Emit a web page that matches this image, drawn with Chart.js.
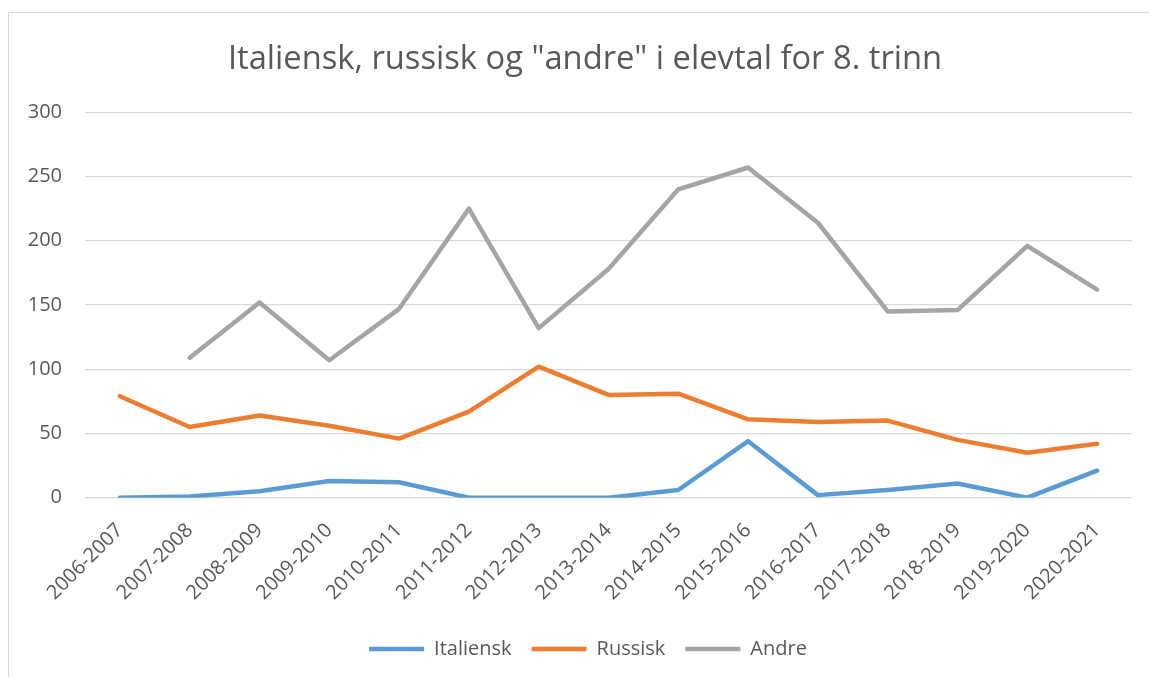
<!DOCTYPE html>
<html>
<head>
<meta charset="utf-8">
<script src="https://cdn.jsdelivr.net/npm/chart.js@4.4.1/dist/chart.umd.min.js"></script>
<style>
  html, body { margin: 0; padding: 0; background: #fff; }
  #wrap { position: relative; width: 1149px; height: 677px; overflow: hidden; }
  #frame { position: absolute; left: 8px; top: 12px; width: 1200px; height: 700px;
           border: 1.5px solid #d9d9d9; box-sizing: border-box; }
  #chart { position: absolute; left: 0; top: 0; }
</style>
</head>
<body>
<div id="wrap">
  <div id="frame"></div>
  <canvas id="chart" width="1149" height="677"></canvas>
</div>
<script>
const years = ["2006-2007", "2007-2008", "2008-2009", "2009-2010", "2010-2011",
  "2011-2012", "2012-2013", "2013-2014", "2014-2015", "2015-2016",
  "2016-2017", "2017-2018", "2018-2019", "2019-2020", "2020-2021"];
const italiensk = [0, 1, 5, 13, 12, 0, 0, 0, 6, 44, 2, 6, 11, 0, 21];
const russisk = [79, 55, 64, 56, 46, 67, 102, 80, 81, 61, 59, 60, 45, 35, 42];
const andre = [null, 109, 152, 107, 147, 225, 132, 178, 240, 257, 214, 145, 146, 196, 162];
const yTicks = [0, 50, 100, 150, 200, 250, 300];

const textColor = "#595959";
const font = "'Open Sans', 'Noto Sans', sans-serif";

function series(label, data, color) {
  return {
    label, data,
    borderColor: color,
    backgroundColor: color,
    borderWidth: 4.5,
    borderCapStyle: "round",
    borderJoinStyle: "round",
    pointRadius: 0,
    tension: 0,
    fill: false
  };
}

// title and legend sit a bit right of the canvas centre in the original
const nudge = {
  id: "nudge",
  afterLayout(chart) {
    chart.titleBlock.left += 19;
    chart.titleBlock.right += 19;
    chart.legend.left += 22;
    chart.legend.right += 22;
  }
};

new Chart(document.getElementById("chart"), {
  type: "line",
  data: {
    labels: years,
    datasets: [
      series("Italiensk", italiensk, "#5b9bd5"),
      series("Russisk", russisk, "#ed7d31"),
      series("Andre", andre, "#a5a5a5")
    ]
  },
  plugins: [nudge],
  options: {
    responsive: false,
    animation: false,
    layout: { padding: { left: 0, right: 17, top: 0, bottom: 8 } },
    plugins: {
      title: {
        display: true,
        text: 'Italiensk, russisk og "andre" i elevtal for 8. trinn',
        color: textColor,
        font: { family: font, size: 32.7, weight: "normal" },
        padding: { top: 40, bottom: 33 }
      },
      legend: {
        position: "bottom",
        labels: {
          color: textColor,
          font: { family: font, size: 20 },
          usePointStyle: true,
          pointStyle: "line",
          pointStyleWidth: 55,
          padding: 20
        }
      },
      tooltip: { enabled: false }
    },
    scales: {
      x: {
        offset: true,
        grid: { display: false, drawTicks: false },
        border: { display: false },
        ticks: {
          color: textColor,
          font: { family: font, size: 20 },
          minRotation: 45, maxRotation: 45,
          autoSkip: false,
          padding: 21
        },
        afterFit: s => { s.height = 121.3; }
      },
      y: {
        min: 0, max: 300,
        afterBuildTicks: s => { s.ticks = yTicks.map(v => ({ value: v })); },
        grid: { color: "#d9d9d9", lineWidth: 1.3, drawTicks: false },
        border: { display: false },
        ticks: {
          color: textColor,
          font: { family: font, size: 20 },
          padding: 23
        },
        afterFit: s => { s.width = 85; }
      }
    }
  }
});
</script>
</body>
</html>
